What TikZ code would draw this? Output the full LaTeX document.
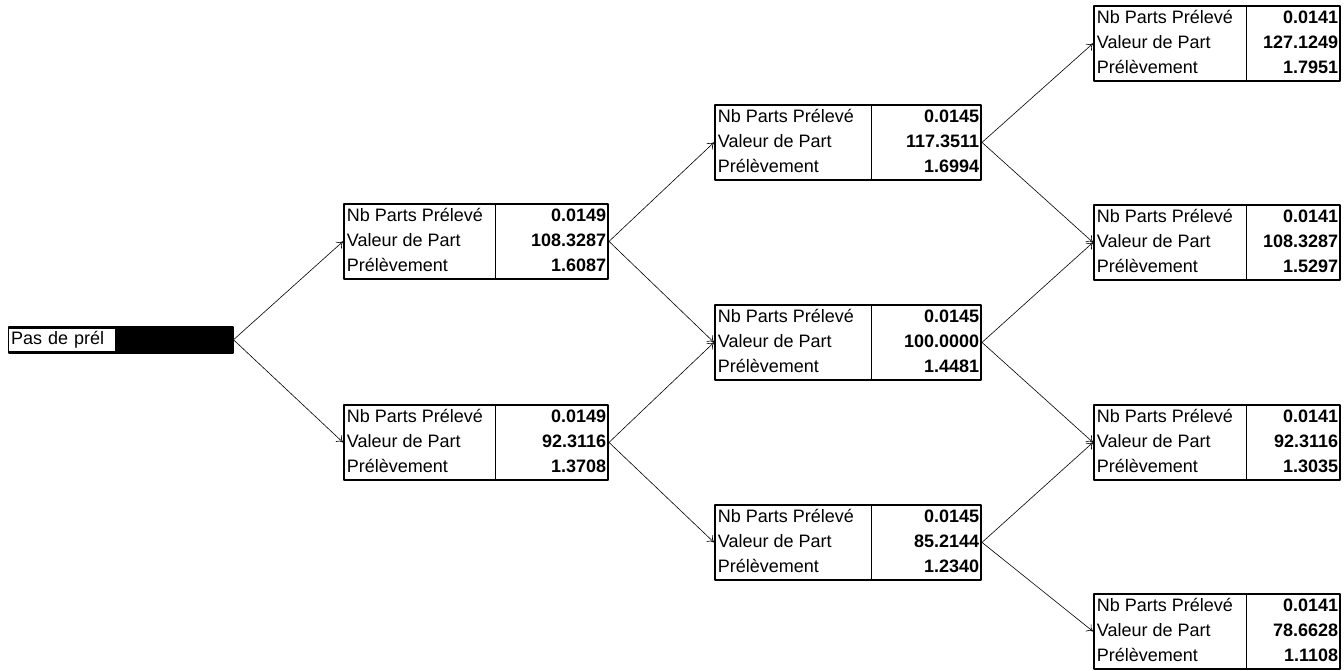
\documentclass[tikz,border=0pt]{standalone}
\usepackage{fontspec}
\setmainfont{Liberation Sans}
\usepackage{array}
\usetikzlibrary{arrows.meta}
\setlength{\tabcolsep}{2pt}
\setlength{\arrayrulewidth}{1.2pt}
\newcommand{\boite}[5]{\begin{tabular}{@{\hspace{3pt}}p{#1}|>{\raggedleft\arraybackslash\bfseries}p{#2}@{\hspace{2pt}}}
Nb Parts Prélevé & #3\\
Valeur de Part & #4\\
Prélèvement & #5
\end{tabular}}
\tikzset{cellule/.style={draw, line width=1.8pt, inner sep=0pt, anchor=north west, font=\fontsize{18}{25}\selectfont},
	fleche/.style={-{To[length=6pt,width=9pt]}, line width=0.6pt}}
\begin{document}
\begin{tikzpicture}[x=1pt, y=-1pt, line join=round]
	\useasboundingbox (0,0) rectangle (1344,670);
	% racine
	\node[draw, line width=1.5pt, fill=black, minimum width=224pt, minimum height=26pt, inner sep=0pt, anchor=north west] (racine) at (8,326) {};
	\node[fill=white, anchor=west, text width=102pt, minimum height=22pt, inner xsep=2pt, inner ysep=0pt, align=left, font=\fontsize{18}{22}\selectfont] (racinetxt) at ([xshift=1pt]racine.west) {Pas de prél};
	% niveau 1
	\node[cellule] (b1) at (343,203) {\boite{146pt}{108pt}{0.0149}{108.3287}{1.6087}};
	\node[cellule] (b2) at (343,404) {\boite{146pt}{108pt}{0.0149}{92.3116}{1.3708}};
	% niveau 2
	\node[cellule] (c1) at (714,104) {\boite{151pt}{105pt}{0.0145}{117.3511}{1.6994}};
	\node[cellule] (c2) at (714,304) {\boite{151pt}{105pt}{0.0145}{100.0000}{1.4481}};
	\node[cellule] (c3) at (714,504) {\boite{151pt}{105pt}{0.0145}{85.2144}{1.2340}};
	% niveau 3
	\node[cellule] (d1) at (1093,5) {\boite{147pt}{89pt}{0.0141}{127.1249}{1.7951}};
	\node[cellule] (d2) at (1093,204) {\boite{147pt}{89pt}{0.0141}{108.3287}{1.5297}};
	\node[cellule] (d3) at (1093,404) {\boite{147pt}{89pt}{0.0141}{92.3116}{1.3035}};
	\node[cellule] (d4) at (1093,593) {\boite{147pt}{89pt}{0.0141}{78.6628}{1.1108}};
	% fleches
	\foreach \a/\b in {racine/b1, racine/b2, b1/c1, b1/c2, b2/c2, b2/c3, c1/d1, c1/d2, c2/d2, c2/d3, c3/d3, c3/d4}
		\draw[fleche] (\a.east) -- (\b.west);
\end{tikzpicture}
\end{document}
